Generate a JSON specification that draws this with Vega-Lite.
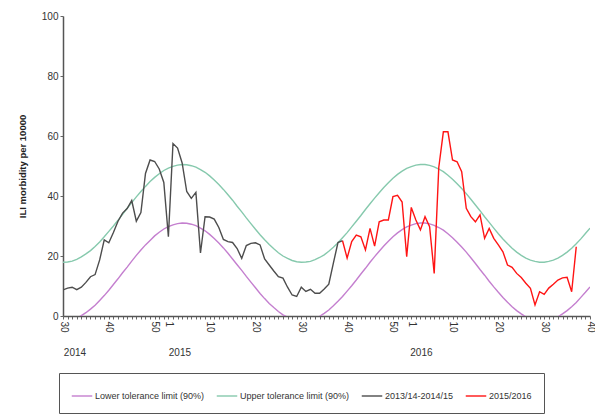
{
  "$schema": "https://vega.github.io/schema/vega-lite/v6.json",
  "width": 527,
  "height": 300,
  "autosize": {"type": "none"},
  "padding": {"left": 63, "top": 16, "right": 5, "bottom": 99},
  "background": "white",
  "config": {
    "view": {"stroke": null},
    "font": "Liberation Sans",
    "axis": {"grid": false}
  },
  "data": {
    "values": [
      {"w": 0, "lo": -1.7, "up": 17.9, "a": 8.7},
      {"w": 1, "lo": -1.6, "up": 18.0, "a": 9.3},
      {"w": 2, "lo": -1.3, "up": 18.3, "a": 9.6},
      {"w": 3, "lo": -0.7, "up": 18.9, "a": 8.8},
      {"w": 4, "lo": 0.1, "up": 19.7, "a": 9.6},
      {"w": 5, "lo": 1.1, "up": 20.7, "a": 11.2},
      {"w": 6, "lo": 2.3, "up": 21.8, "a": 13.1},
      {"w": 7, "lo": 3.6, "up": 23.2, "a": 13.8},
      {"w": 8, "lo": 5.2, "up": 24.7, "a": 18.7},
      {"w": 9, "lo": 6.8, "up": 26.4, "a": 25.4},
      {"w": 10, "lo": 8.6, "up": 28.2, "a": 24.4},
      {"w": 11, "lo": 10.5, "up": 30.0, "a": 27.8},
      {"w": 12, "lo": 12.4, "up": 31.9, "a": 31.6},
      {"w": 13, "lo": 14.4, "up": 33.9, "a": 34.3},
      {"w": 14, "lo": 16.3, "up": 35.9, "a": 35.8},
      {"w": 15, "lo": 18.3, "up": 37.8, "a": 38.5},
      {"w": 16, "lo": 20.2, "up": 39.7, "a": 31.6},
      {"w": 17, "lo": 22.0, "up": 41.5, "a": 34.5},
      {"w": 18, "lo": 23.7, "up": 43.2, "a": 47.5},
      {"w": 19, "lo": 25.2, "up": 44.8, "a": 52.0},
      {"w": 20, "lo": 26.7, "up": 46.2, "a": 51.5},
      {"w": 21, "lo": 27.9, "up": 47.4, "a": 49.0},
      {"w": 22, "lo": 29.0, "up": 48.5, "a": 44.5},
      {"w": 23, "lo": 29.8, "up": 49.3, "a": 26.4},
      {"w": 24, "lo": 30.4, "up": 49.9, "a": 57.5},
      {"w": 25, "lo": 30.8, "up": 50.3, "a": 56.0},
      {"w": 26, "lo": 31.0, "up": 50.5, "a": 51.0},
      {"w": 27, "lo": 30.9, "up": 50.4, "a": 41.5},
      {"w": 28, "lo": 30.6, "up": 50.1, "a": 39.2},
      {"w": 29, "lo": 30.1, "up": 49.6, "a": 41.2},
      {"w": 30, "lo": 29.3, "up": 48.8, "a": 21.0},
      {"w": 31, "lo": 28.4, "up": 47.9, "a": 33.1},
      {"w": 32, "lo": 27.2, "up": 46.7, "a": 33.0},
      {"w": 33, "lo": 25.8, "up": 45.3, "a": 32.3},
      {"w": 34, "lo": 24.3, "up": 43.8, "a": 29.5},
      {"w": 35, "lo": 22.7, "up": 42.2, "a": 25.5},
      {"w": 36, "lo": 20.9, "up": 40.4, "a": 24.8},
      {"w": 37, "lo": 19.0, "up": 38.6, "a": 24.5},
      {"w": 38, "lo": 17.1, "up": 36.6, "a": 22.5},
      {"w": 39, "lo": 15.2, "up": 34.7, "a": 19.2},
      {"w": 40, "lo": 13.2, "up": 32.7, "a": 23.5},
      {"w": 41, "lo": 11.3, "up": 30.8, "a": 24.2},
      {"w": 42, "lo": 9.4, "up": 28.9, "a": 24.4},
      {"w": 43, "lo": 7.5, "up": 27.1, "a": 23.7},
      {"w": 44, "lo": 5.8, "up": 25.4, "a": 19.0},
      {"w": 45, "lo": 4.2, "up": 23.8, "a": 17.0},
      {"w": 46, "lo": 2.8, "up": 22.4, "a": 15.0},
      {"w": 47, "lo": 1.5, "up": 21.1, "a": 13.1},
      {"w": 48, "lo": 0.4, "up": 20.0, "a": 12.6},
      {"w": 49, "lo": -0.4, "up": 19.2, "a": 9.6},
      {"w": 50, "lo": -1.1, "up": 18.5, "a": 7.0},
      {"w": 51, "lo": -1.5, "up": 18.1, "a": 6.5},
      {"w": 52, "lo": -1.7, "up": 17.9, "a": 9.6},
      {"w": 53, "lo": -1.6, "up": 18.0, "a": 8.2},
      {"w": 54, "lo": -1.3, "up": 18.2, "a": 8.9},
      {"w": 55, "lo": -0.8, "up": 18.8, "a": 7.6},
      {"w": 56, "lo": -0.1, "up": 19.5, "a": 7.6},
      {"w": 57, "lo": 0.9, "up": 20.4, "a": 9.0},
      {"w": 58, "lo": 2.0, "up": 21.6, "a": 10.6},
      {"w": 59, "lo": 3.4, "up": 22.9, "a": 17.6},
      {"w": 60, "lo": 4.9, "up": 24.4, "a": 24.5},
      {"w": 61, "lo": 6.5, "up": 26.1, "a": 25.1, "b": 25.1},
      {"w": 62, "lo": 8.3, "up": 27.8, "b": 19.3},
      {"w": 63, "lo": 10.1, "up": 29.7, "b": 24.8},
      {"w": 64, "lo": 12.0, "up": 31.6, "b": 27.0},
      {"w": 65, "lo": 14.0, "up": 33.5, "b": 26.4},
      {"w": 66, "lo": 15.9, "up": 35.5, "b": 22.0},
      {"w": 67, "lo": 17.9, "up": 37.4, "b": 29.2},
      {"w": 68, "lo": 19.8, "up": 39.3, "b": 23.3},
      {"w": 69, "lo": 21.6, "up": 41.1, "b": 31.4},
      {"w": 70, "lo": 23.3, "up": 42.8, "b": 32.0},
      {"w": 71, "lo": 24.9, "up": 44.4, "b": 32.0},
      {"w": 72, "lo": 26.4, "up": 45.9, "b": 39.8},
      {"w": 73, "lo": 27.7, "up": 47.2, "b": 40.2},
      {"w": 74, "lo": 28.8, "up": 48.3, "b": 38.0},
      {"w": 75, "lo": 29.7, "up": 49.2, "b": 19.8},
      {"w": 76, "lo": 30.3, "up": 49.8, "b": 36.2},
      {"w": 77, "lo": 30.8, "up": 50.3, "b": 32.0},
      {"w": 78, "lo": 31.0, "up": 50.5, "b": 28.7},
      {"w": 79, "lo": 31.0, "up": 50.5, "b": 33.1},
      {"w": 80, "lo": 30.7, "up": 50.2, "b": 29.8},
      {"w": 81, "lo": 30.2, "up": 49.7, "b": 14.2},
      {"w": 82, "lo": 29.5, "up": 49.0, "b": 49.5},
      {"w": 83, "lo": 28.6, "up": 48.1, "b": 61.4},
      {"w": 84, "lo": 27.4, "up": 46.9, "b": 61.4},
      {"w": 85, "lo": 26.1, "up": 45.6, "b": 52.0},
      {"w": 86, "lo": 24.6, "up": 44.1, "b": 51.4},
      {"w": 87, "lo": 23.0, "up": 42.5, "b": 48.1},
      {"w": 88, "lo": 21.3, "up": 40.8, "b": 35.9},
      {"w": 89, "lo": 19.4, "up": 38.9, "b": 33.1},
      {"w": 90, "lo": 17.5, "up": 37.0, "b": 31.4},
      {"w": 91, "lo": 15.5, "up": 35.1, "b": 33.7},
      {"w": 92, "lo": 13.6, "up": 33.1, "b": 25.9},
      {"w": 93, "lo": 11.6, "up": 31.2, "b": 29.2},
      {"w": 94, "lo": 9.7, "up": 29.3, "b": 25.9},
      {"w": 95, "lo": 7.9, "up": 27.4, "b": 23.7},
      {"w": 96, "lo": 6.2, "up": 25.7, "b": 21.4},
      {"w": 97, "lo": 4.6, "up": 24.1, "b": 17.0},
      {"w": 98, "lo": 3.1, "up": 22.6, "b": 16.2},
      {"w": 99, "lo": 1.8, "up": 21.3, "b": 14.2},
      {"w": 100, "lo": 0.7, "up": 20.2, "b": 12.8},
      {"w": 101, "lo": -0.3, "up": 19.3, "b": 10.9},
      {"w": 102, "lo": -1.0, "up": 18.6, "b": 9.2},
      {"w": 103, "lo": -1.4, "up": 18.2, "b": 3.7},
      {"w": 104, "lo": -1.7, "up": 17.9, "b": 8.1},
      {"w": 105, "lo": -1.7, "up": 17.9, "b": 7.2},
      {"w": 106, "lo": -1.4, "up": 18.2, "b": 9.3},
      {"w": 107, "lo": -0.9, "up": 18.6, "b": 10.6},
      {"w": 108, "lo": -0.3, "up": 19.3, "b": 12.0},
      {"w": 109, "lo": 0.7, "up": 20.2, "b": 12.7},
      {"w": 110, "lo": 1.8, "up": 21.3, "b": 12.9},
      {"w": 111, "lo": 3.1, "up": 22.6, "b": 8.1},
      {"w": 112, "lo": 4.5, "up": 24.1, "b": 23.1},
      {"w": 113, "lo": 6.2, "up": 25.7},
      {"w": 114, "lo": 7.9, "up": 27.5},
      {"w": 115, "lo": 9.7, "up": 29.3}
    ]
  },
  "transform": [
    {"fold": ["lo", "up", "a", "b"], "as": ["series", "value"]},
    {"filter": "isValid(datum.value)"}
  ],
  "resolve": {"axis": {"x": "independent"}},
  "layer": [
    {
      "mark": {"type": "line", "clip": true},
      "encoding": {
        "x": {
          "field": "w",
          "type": "quantitative",
          "scale": {"domain": [0, 115], "nice": false, "zero": false},
          "axis": {
            "title": null,
            "values": [0,1,2,3,4,5,6,7,8,9,10,11,12,13,14,15,16,17,18,19,20,21,22,23,24,25,26,27,28,29,30,31,32,33,34,35,36,37,38,39,40,41,42,43,44,45,46,47,48,49,50,51,52,53,54,55,56,57,58,59,60,61,62,63,64,65,66,67,68,69,70,71,72,73,74,75,76,77,78,79,80,81,82,83,84,85,86,87,88,89,90,91,92,93,94,95,96,97,98,99,100,101,102,103,104,105,106,107,108,109,110,111,112,113,114,115],
            "labelExpr": "indexof([0,10,20,23,32,42,52,62,72,76,85,95,105,115], datum.value) >= 0 ? ['30','40','50','1','10','20','30','40','50','1','10','20','30','40'][indexof([0,10,20,23,32,42,52,62,72,76,85,95,105,115], datum.value)] : ''",
            "labelAngle": 90,
            "labelOverlap": false,
            "labelFontSize": 10,
            "labelColor": "#333333",
            "labelPadding": 2,
            "tickSize": 3,
            "tickColor": "#666666",
            "domainColor": "#555555",
            "domainWidth": 1.5
          }
        },
        "y": {
          "field": "value",
          "type": "quantitative",
          "scale": {"domain": [0, 100], "nice": false},
          "axis": {
            "title": "ILI morbidity per 10000",
            "titleFontSize": 9.5,
            "titleFontWeight": "bold",
            "titleColor": "#222222",
            "titlePadding": 14,
            "values": [0, 20, 40, 60, 80, 100],
            "labelFontSize": 10,
            "labelColor": "#333333",
            "tickSize": 3,
            "tickColor": "#666666",
            "domainColor": "#555555",
            "domainWidth": 1.5
          }
        },
        "color": {
          "field": "series",
          "type": "nominal",
          "scale": {
            "domain": ["lo", "up", "a", "b"],
            "range": ["#c47fcf", "#86c9ad", "#4d4d4d", "#ff1414"]
          },
          "legend": {
            "title": null,
            "orient": "none",
            "legendX": -4,
            "legendY": 357,
            "direction": "horizontal",
            "symbolType": "stroke",
            "symbolSize": 420,
            "labelFontSize": 9,
            "labelColor": "#333333",
            "labelOffset": 2,
            "columnPadding": 8,
            "padding": 12,
            "strokeColor": "#555555",
            "fillColor": "white",
            "labelExpr": "{'lo': 'Lower tolerance limit (90%)', 'up': 'Upper tolerance limit (90%)', 'a': '2013/14-2014/15', 'b': '2015/2016'}[datum.label]"
          }
        },
        "strokeWidth": {
          "field": "series",
          "type": "nominal",
          "scale": {"domain": ["lo", "up", "a", "b"], "range": [1.4, 1.4, 1.4, 2.4]}
        }
      }
    },
    {
      "mark": {"type": "line", "opacity": 0},
      "encoding": {
        "x": {
          "field": "w",
          "type": "quantitative",
          "axis": {
            "title": null,
            "orient": "bottom",
            "values": [2.5, 25.4, 78.1],
            "labelExpr": "datum.value < 10 ? '2014' : datum.value < 50 ? '2015' : '2016'",
            "labelAngle": 0,
            "labelPadding": 31,
            "labelFontSize": 10,
            "labelColor": "#333333",
            "domain": false,
            "ticks": false,
            "labelOverlap": false
          }
        },
        "y": {"field": "value", "type": "quantitative"}
      }
    }
  ]
}
